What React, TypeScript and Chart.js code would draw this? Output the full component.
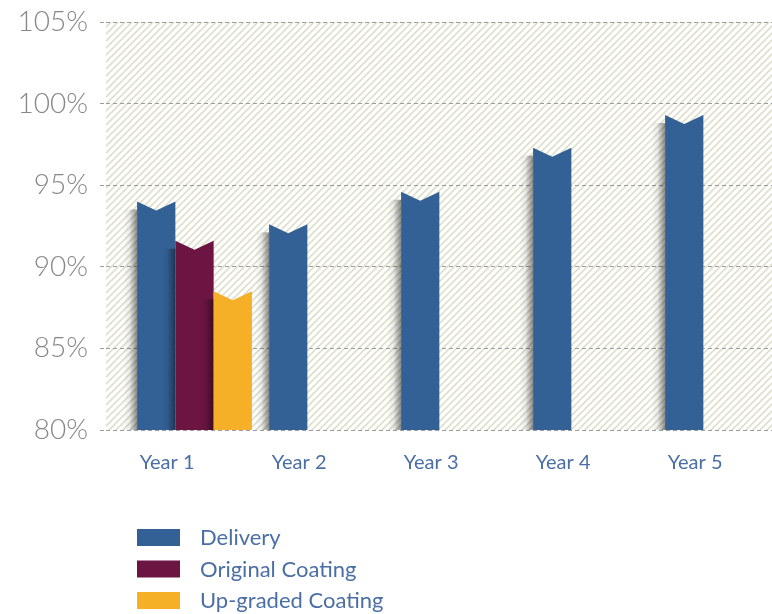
import { useEffect, useRef } from 'react';
import { Chart, registerables } from 'chart.js';

Chart.register(...registerables);

// ---- data ----
const categories = ['Year 1', 'Year 2', 'Year 3', 'Year 4', 'Year 5'];
const deliveryValues = [94.0, 92.6, 94.6, 97.3, 99.3];
const originalCoatingValues = [91.6];
const upgradedCoatingValues = [88.5];
const yTickValues = [80, 85, 90, 95, 100, 105];
const seriesLabels = ['Delivery', 'Original Coating', 'Up-graded Coating'];
const seriesColors = ['#336196', '#6c1542', '#f5b027'];

const TEXT_BLUE = '#4b6fa5';
const GRID_GREY = '#9c9c9c';

const toPoints = (vals: number[]) => vals.map((v, i) => ({ x: i, y: v }));

const hatchPlugin = {
  id: 'hatchBg',
  beforeDraw(chart: any) {
    const { ctx, chartArea } = chart;
    const s = 7;
    const tile = document.createElement('canvas');
    tile.width = s;
    tile.height = s;
    const t = tile.getContext('2d')!;
    t.strokeStyle = '#dadcc4';
    t.lineWidth = 1.5;
    t.beginPath();
    t.moveTo(0, s);
    t.lineTo(s, 0);
    t.moveTo(-2, 2);
    t.lineTo(2, -2);
    t.moveTo(s - 2, s + 2);
    t.lineTo(s + 2, s - 2);
    t.stroke();
    const pattern = ctx.createPattern(tile, 'repeat');
    ctx.save();
    ctx.fillStyle = '#ffffff';
    ctx.fillRect(chartArea.left, chartArea.top, chartArea.right - chartArea.left, chartArea.bottom - chartArea.top);
    ctx.fillStyle = pattern;
    ctx.fillRect(chartArea.left, chartArea.top, chartArea.right - chartArea.left, chartArea.bottom - chartArea.top);
    ctx.restore();
  },
};

const notchedBarsPlugin = {
  id: 'notchedBars',
  afterDatasetsDraw(chart: any) {
    const { ctx, chartArea } = chart;
    ctx.save();
    chart.data.datasets.forEach((ds: any, di: number) => {
      const meta = chart.getDatasetMeta(di);
      meta.data.forEach((el: any) => {
        const props = el.getProps(['x', 'y', 'base', 'width'], true);
        const { x, y, width } = props;
        const base = Math.min(props.base, chartArea.bottom);
        const left = x - width / 2;
        const right = x + width / 2;
        const notch = 9;
        // soft shadow to the left
        const sw = 14;
        const g = ctx.createLinearGradient(left - sw, 0, left, 0);
        g.addColorStop(0, 'rgba(0,0,0,0)');
        g.addColorStop(0.45, 'rgba(0,0,0,0.08)');
        g.addColorStop(1, 'rgba(0,0,0,0.45)');
        ctx.fillStyle = g;
        ctx.fillRect(left - sw, y + 8, sw, base - y - 8);
        // bar with V notch top
        ctx.beginPath();
        ctx.moveTo(left, base);
        ctx.lineTo(left, y);
        ctx.lineTo(x, y + notch);
        ctx.lineTo(right, y);
        ctx.lineTo(right, base);
        ctx.closePath();
        ctx.fillStyle = seriesColors[di];
        ctx.fill();
      });
    });
    ctx.restore();
  },
};

const legendPlugin = {
  id: 'customLegend',
  afterDraw(chart: any) {
    const { ctx } = chart;
    ctx.save();
    ctx.font = '22px Lato, "Open Sans", sans-serif';
    ctx.textBaseline = 'middle';
    ctx.textAlign = 'left';
    seriesLabels.forEach((label, i) => {
      const top = 529 + i * 31.5;
      ctx.fillStyle = seriesColors[i];
      ctx.fillRect(137, top, 43, 17);
      ctx.fillStyle = TEXT_BLUE;
      ctx.fillText(label, 200, top + 9);
    });
    ctx.restore();
  },
};

export default function App() {
  const ref = useRef<HTMLCanvasElement>(null);
  useEffect(() => {
    const chart = new Chart(ref.current!, {
      type: 'bar',
      data: {
        datasets: [
          { label: seriesLabels[0], data: toPoints(deliveryValues), backgroundColor: 'rgba(0,0,0,0)' },
          { label: seriesLabels[1], data: toPoints(originalCoatingValues), backgroundColor: 'rgba(0,0,0,0)' },
          { label: seriesLabels[2], data: toPoints(upgradedCoatingValues), backgroundColor: 'rgba(0,0,0,0)' },
        ] as any,
      },
      options: {
        animation: false,
        responsive: true,
        maintainAspectRatio: false,
        datasets: { bar: { categoryPercentage: 0.87, barPercentage: 1 } },
        layout: { padding: { top: 22, left: 0, right: 0, bottom: 118 } },
        plugins: { legend: { display: false }, tooltip: { enabled: false } },
        scales: {
          x: {
            type: 'linear',
            offset: false,
            min: -0.6705,
            max: 4.375,
            afterBuildTicks: (scale: any) => {
              scale.ticks = categories.map((_, i) => ({ value: i }));
            },
            ticks: {
              callback: (v: any) => categories[v as number],
              align: 'end',
              padding: 21,
              color: TEXT_BLUE,
              font: { family: 'Lato, "Open Sans", sans-serif', size: 20 },
              maxRotation: 0,
              autoSkip: false,
            },
            grid: { display: false, drawTicks: false, offset: false },
            border: { display: false },
          },
          y: {
            min: 80,
            max: 105,
            afterBuildTicks: (scale: any) => {
              scale.ticks = yTickValues.map((v) => ({ value: v }));
            },
            afterFit: (scale: any) => {
              scale.width = 106;
              scale.paddingTop = 0;
              scale.paddingBottom = 0;
            },
            ticks: {
              callback: (v: any) => v + '%',
              color: '#878787',
              font: { family: 'Lato, "Open Sans", sans-serif', size: 28, weight: '300' },
              padding: 12,
            },
            grid: {
              color: GRID_GREY,
              lineWidth: 1,
              drawTicks: true,
              tickLength: 6,
              tickColor: GRID_GREY,
              tickBorderDash: [4, 3],
            },
            border: { display: false, dash: [4, 3] },
          },
        } as any,
      },
      plugins: [hatchPlugin, notchedBarsPlugin, legendPlugin],
    });
    return () => chart.destroy();
  }, []);
  return (
    <div style={{ position: 'absolute', left: 0, top: 0, width: 772, height: 614, background: '#fff' }}>
      <canvas ref={ref} />
    </div>
  );
}
